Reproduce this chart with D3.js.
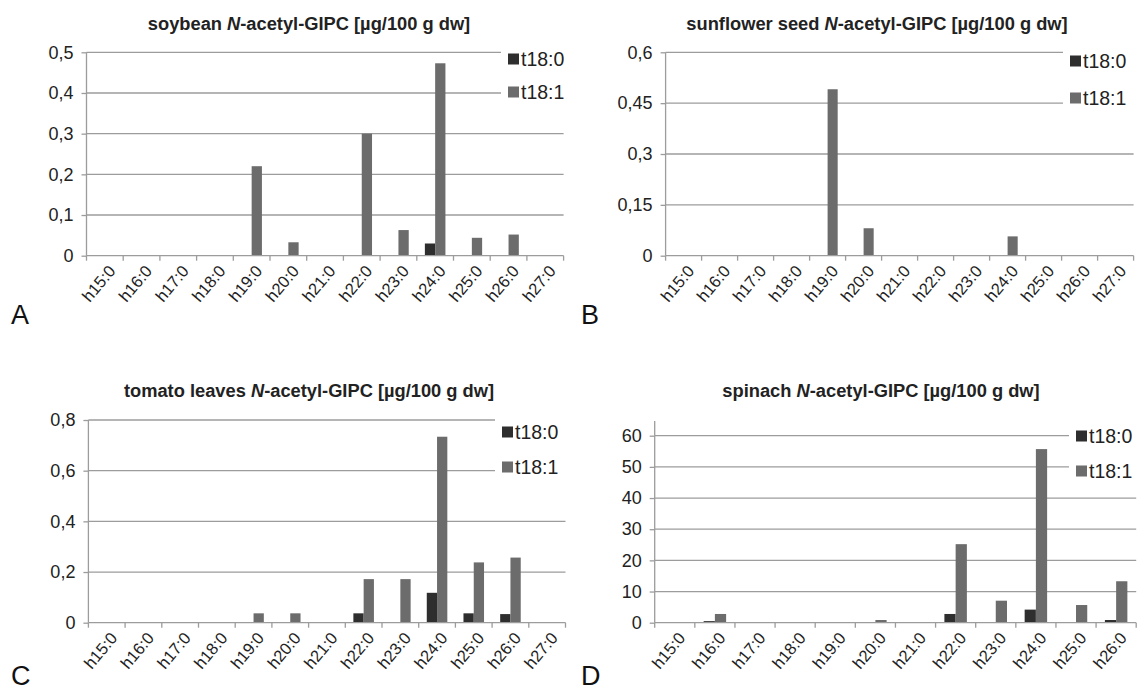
<!DOCTYPE html>
<html>
<head>
<meta charset="utf-8">
<script src="https://cdn.jsdelivr.net/npm/d3@7"></script>
<style>
  body { margin: 0; background: #fff; }
  svg { display: block; font-family: "Liberation Sans", Arial, sans-serif; }
</style>
</head>
<body>
<div id="chart"></div>
<script>
// categories
const cats13 = ["h15:0","h16:0","h17:0","h18:0","h19:0","h20:0","h21:0","h22:0","h23:0","h24:0","h25:0","h26:0","h27:0"]
const cats12 = cats13.slice(0, 12)
const seriesNames = ["t18:0", "t18:1"]

// soybean
const soyT180 = [0,0,0,0,0,0,0,0,0,0.03,0,0,0]
const soyT181 = [0,0,0,0,0.22,0.033,0,0.30,0.063,0.473,0.044,0.052,0]
// sunflower seed
const sunT180 = [0,0,0,0,0,0,0,0,0,0,0,0,0]
const sunT181 = [0,0,0,0,0.491,0.081,0,0,0,0.057,0,0,0]
// tomato leaves
const tomT180 = [0,0,0,0,0,0,0,0.037,0,0.118,0.037,0.034,0]
const tomT181 = [0,0,0,0,0.037,0.037,0,0.172,0.172,0.734,0.238,0.257,0]
// spinach
const spiT180 = [0,0.5,0,0,0,0,0,2.8,0,4.2,0,0.86]
const spiT181 = [0,2.8,0,0,0,0.86,0,25.2,7.06,55.7,5.67,13.3]

// y tick values
const ticksA = [0,0.1,0.2,0.3,0.4,0.5]
const ticksB = [0,0.15,0.3,0.45,0.6]
const ticksC = [0,0.2,0.4,0.6,0.8]
const ticksD = [0,10,20,30,40,50,60]

const COLORS = { "t18:0": "#2e2e2e", "t18:1": "#6c6c6c" }
const GRID = "#9c9c9c"

const svg = d3.select("#chart").append("svg")
    .attr("width", 1139)
    .attr("height", 693)

const fmt = v => String(v).replace(".", ",")

function drawPanel(p) {
    const g = svg.append("g")

    const x = d3.scaleBand()
        .domain(p.cats)
        .range([p.left, p.right])
        .padding(0)
    const bw = x.bandwidth()
    const x1 = d3.scaleBand()
        .domain(seriesNames)
        .range([bw * 0.22, bw * 0.78])
    const y = d3.scaleLinear()
        .domain([0, p.max])
        .range([p.bottom, p.top])

    // gridlines
    g.append("g").selectAll("line")
        .data(p.ticks.filter(t => t > 0))
        .join("line")
            .attr("x1", p.left)
            .attr("x2", p.right)
            .attr("y1", d => y(d))
            .attr("y2", d => y(d))
            .attr("stroke", GRID)
            .attr("stroke-width", 1.3)

    // y axis
    const yAxisCall = d3.axisLeft(y)
        .tickValues(p.ticks)
        .tickFormat(fmt)
        .tickSize(5)
        .tickSizeOuter(0)
    const ya = g.append("g")
        .attr("transform", `translate(${p.left}, 0)`)
        .call(yAxisCall)
    ya.select(".domain").remove()
    ya.selectAll("line").attr("stroke", GRID).attr("stroke-width", 1.3)
    ya.selectAll("text")
        .attr("x", -13)
        .attr("font-size", "18px")
        .attr("fill", "#222")
        .attr("font-family", "Liberation Sans, Arial, sans-serif")
    g.append("line")
        .attr("x1", p.left).attr("x2", p.left)
        .attr("y1", p.bottom).attr("y2", y(p.max))
        .attr("stroke", GRID).attr("stroke-width", 1.3)

    // legend box over gridlines
    g.append("rect")
        .attr("x", p.legX - 7)
        .attr("y", p.legY[0] - 16)
        .attr("width", 1139 - p.legX + 7)
        .attr("height", p.legY[1] - p.legY[0] + 32)
        .attr("fill", "#fff")
    seriesNames.forEach((s, i) => {
        g.append("rect")
            .attr("x", p.legX)
            .attr("y", p.legY[i] - 5.5)
            .attr("width", 11)
            .attr("height", 11)
            .attr("fill", COLORS[s])
        g.append("text")
            .attr("x", p.legX + 13)
            .attr("y", p.legY[i] + 7)
            .attr("font-size", "19.5px")
            .attr("fill", "#222")
            .text(s)
    })

    // bars
    const rows = p.cats.map((c, i) => ({ cat: c, "t18:0": p.s0[i], "t18:1": p.s1[i] }))
    g.append("g").selectAll("g")
        .data(rows)
        .join("g")
            .attr("transform", d => `translate(${x(d.cat)}, 0)`)
        .selectAll("rect")
        .data(d => seriesNames.map(s => ({ key: s, value: d[s] })).filter(d => d.value > 0))
        .join("rect")
            .attr("x", d => x1(d.key))
            .attr("width", x1.bandwidth())
            .attr("y", d => y(d.value))
            .attr("height", d => p.bottom - y(d.value))
            .attr("fill", d => COLORS[d.key])

    // x axis
    const xa = g.append("g").attr("transform", `translate(0, ${p.bottom})`)
    xa.append("line")
        .attr("x1", p.left).attr("x2", p.right)
        .attr("stroke", GRID).attr("stroke-width", 1.3)
    xa.selectAll(".tk")
        .data(p.cats.concat(["end"]))
        .join("line")
            .attr("class", "tk")
            .attr("x1", (d, i) => p.left + i * bw)
            .attr("x2", (d, i) => p.left + i * bw)
            .attr("y1", 0).attr("y2", 5)
            .attr("stroke", GRID).attr("stroke-width", 1.3)
    xa.selectAll(".lbl")
        .data(p.cats)
        .join("text")
            .attr("class", "lbl")
            .attr("text-anchor", "end")
            .attr("font-size", "16.5px")
            .attr("fill", "#222")
            .attr("transform", d => `translate(${x(d) + bw / 2 + 7}, 12) rotate(-50)`)
            .attr("dy", "0.35em")
            .text(d => d)

    // title
    const t = g.append("text")
        .attr("x", p.titleX)
        .attr("y", p.titleY)
        .attr("text-anchor", "middle")
        .attr("font-size", "18.3px")
        .attr("font-weight", "bold")
        .attr("fill", "#222")
    t.append("tspan").text(p.title + " ")
    t.append("tspan").attr("font-style", "italic").text("N")
    t.append("tspan").text("-acetyl-GIPC [µg/100 g dw]")

    // panel letter
    g.append("text")
        .attr("x", p.letterX)
        .attr("y", p.letterY)
        .attr("font-size", "27px")
        .attr("fill", "#111")
        .text(p.letter)
}

drawPanel({ cats: cats13, s0: soyT180, s1: soyT181, ticks: ticksA, max: 0.5,
    left: 86.5, right: 563.6, top: 52.3, bottom: 255.7,
    legX: 508, legY: [59, 92], title: "soybean", titleX: 309, titleY: 30,
    letter: "A", letterX: 11, letterY: 324 })
drawPanel({ cats: cats13, s0: sunT180, s1: sunT181, ticks: ticksB, max: 0.6,
    left: 665.6, right: 1133.6, top: 52.3, bottom: 255.7,
    legX: 1070, legY: [61, 98], title: "sunflower seed", titleX: 877, titleY: 30,
    letter: "B", letterX: 581, letterY: 324 })
drawPanel({ cats: cats13, s0: tomT180, s1: tomT181, ticks: ticksC, max: 0.8,
    left: 88.4, right: 565.5, top: 420, bottom: 622.7,
    legX: 502, legY: [432, 467], title: "tomato leaves", titleX: 309, titleY: 397,
    letter: "C", letterX: 11, letterY: 685 })
drawPanel({ cats: cats12, s0: spiT180, s1: spiT181, ticks: ticksD, max: 60,
    left: 654.7, right: 1136.2, top: 435.7, bottom: 622.7,
    legX: 1076, legY: [436, 471], title: "spinach", titleX: 881, titleY: 397,
    letter: "D", letterX: 581, letterY: 685 })

// spinach y axis runs a bit above the 60 gridline
svg.append("line")
    .attr("x1", 654.7).attr("x2", 654.7)
    .attr("y1", 435.7).attr("y2", 421)
    .attr("stroke", GRID).attr("stroke-width", 1.3)
</script>
</body>
</html>
